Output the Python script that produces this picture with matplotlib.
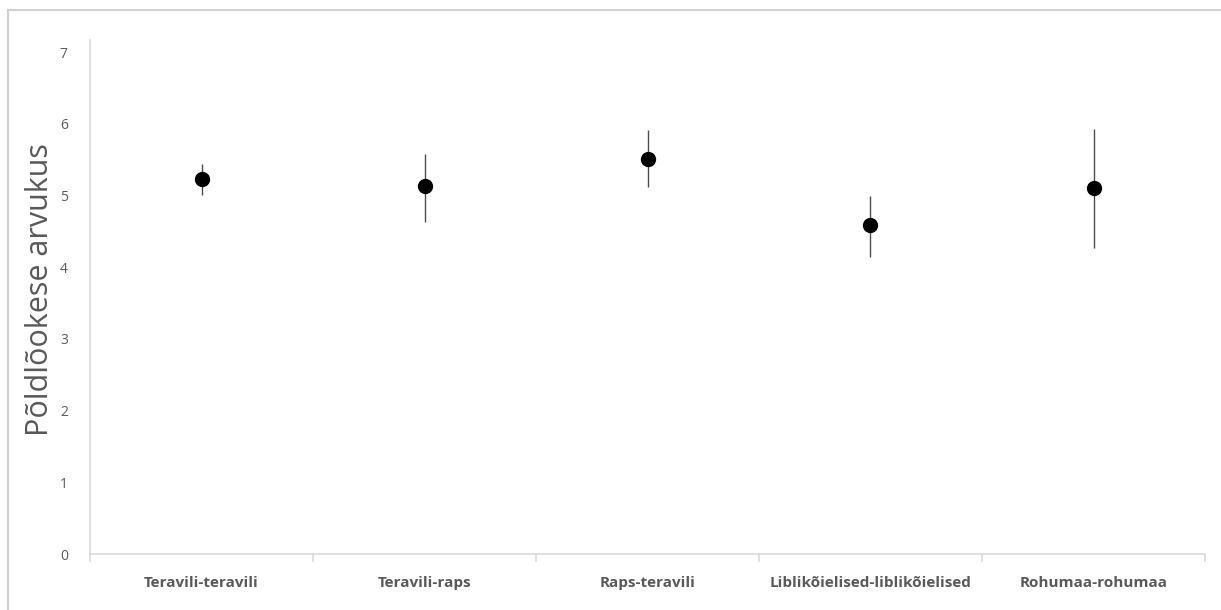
# -*- coding: utf-8 -*-
# Põldlõokese arvukus külvikordade kaupa (keskmine +- viga)

import matplotlib.pyplot as plt
from matplotlib.patches import Rectangle

kategooriad = ['Teravili-teravili', 'Teravili-raps', 'Raps-teravili',
               'Liblikõielised-liblikõielised', 'Rohumaa-rohumaa']
keskmine = [5.23, 5.13, 5.51, 4.59, 5.10]
ylemine = [5.44, 5.58, 5.91, 4.99, 5.93]
alumine = [5.01, 4.63, 5.12, 4.14, 4.27]

hall = '#595959'
joon = '#d9d9d9'

plt.rcParams['font.family'] = ['Open Sans', 'DejaVu Sans']

fig = plt.figure(figsize=(12.21, 6.10), dpi=100)
fig.patches.append(Rectangle((8 / 1221, -0.1), 1.1, 1 - 10 / 610 + 0.1,
                             transform=fig.transFigure, fill=False,
                             edgecolor='#d0d0d0', linewidth=1.5))

ax = fig.add_axes([90 / 1221, 1 - 554 / 610, 1115 / 1221, 514 / 610])

x = list(range(len(kategooriad)))
vead = [[m - a for m, a in zip(keskmine, alumine)],
        [y - m for m, y in zip(keskmine, ylemine)]]
ax.errorbar(x, keskmine, yerr=vead, fmt='o', color='black', markersize=10,
            ecolor='#4d4d4d', elinewidth=1.0, capsize=0)

ax.set_xlim(-0.5, len(kategooriad) - 0.5)
ax.set_ylim(0, 7.17)
ax.set_yticks(range(0, 8))
ax.set_yticklabels([str(i) for i in range(0, 8)], color=hall, fontsize=10)

# kategooriate nimed keskel, tickid piiridel
ax.set_xticks([i - 0.5 for i in range(len(kategooriad) + 1)])
ax.set_xticklabels([])
ax.tick_params(axis='x', length=6, width=1.2, color=joon, direction='out')
ax.tick_params(axis='y', length=0, pad=16)
for i, nimi in enumerate(kategooriad):
    ax.text(i, -0.4, nimi, ha='center', va='center', fontsize=11,
            fontweight='bold', color=hall)

for s in ['top', 'right']:
    ax.spines[s].set_visible(False)
for s in ['left', 'bottom']:
    ax.spines[s].set_color(joon)
    ax.spines[s].set_linewidth(1.2)

fig.text(40 / 1221, 1 - 290 / 610, 'Põldlõokese arvukus', rotation=90,
         ha='center', va='center', fontsize=22, color=hall)

plt.savefig('out.png', dpi=100)
